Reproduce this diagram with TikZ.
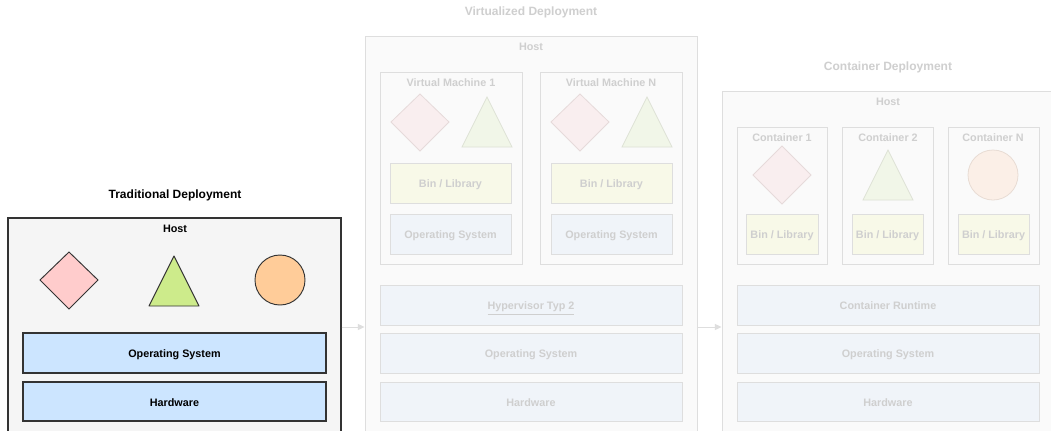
\documentclass[tikz,border=0pt]{standalone}
\usepackage{fontspec}
\setmainfont{Liberation Sans}
\usetikzlibrary{fit,arrows.meta}

% solid palette (traditional deployment)
\definecolor{hostfill}{HTML}{F5F5F5}
\definecolor{darkline}{HTML}{333333}
\definecolor{layerblue}{HTML}{CCE5FF}
\definecolor{pinkfill}{HTML}{FFCCCC}
\definecolor{greenfill}{HTML}{CDEB8B}
\definecolor{orangefill}{HTML}{FFCC99}
% faded palette (virtualized and container deployment)
\definecolor{fadetext}{HTML}{CFCFCF}
\definecolor{fadeline}{HTML}{DEDEDE}
\definecolor{fadehost}{HTML}{FAFAFA}
\definecolor{fadeblue}{HTML}{F0F4F9}
\definecolor{fadebin}{HTML}{F8F9E8}
\definecolor{fadepink}{HTML}{F9EEEF}
\definecolor{fadepinkline}{HTML}{E6DADA}
\definecolor{fadegreen}{HTML}{F1F6E8}
\definecolor{fadegreenline}{HTML}{DEE2D6}
\definecolor{fadeorange}{HTML}{FBEFE7}
\definecolor{fadeorangeline}{HTML}{E8DCD4}

\tikzset{
  every node/.style={font=\fontsize{8.1pt}{9.5pt}\selectfont\bfseries},
  bigfont/.style={font=\fontsize{9pt}{11pt}\selectfont\bfseries},
  frame/.style={fit={#1}, inner sep=0pt, draw},
  solidhost/.style={frame={#1}, draw=darkline, fill=hostfill, line width=0.8pt},
  solidlayer/.style={frame={#1}, draw=darkline, fill=layerblue, line width=0.8pt},
  fadehostbox/.style={frame={#1}, draw=fadeline, fill=fadehost, line width=0.7pt},
  fadebox/.style={frame={#1}, draw=fadeline, fill=fadehost, line width=0.7pt},
  fadelayer/.style={frame={#1}, draw=fadeline, fill=fadeblue, line width=0.7pt},
  fadebinbox/.style={frame={#1}, draw=fadeline, fill=fadebin, line width=0.7pt},
  solidtitle/.style={text=black},
  fadetitle/.style={text=fadetext},
  % text centred inside a box, set on a common height and depth
  inbox/.style={text height=1.65ex, text depth=0.25ex, inner sep=0pt},
  link/.style={draw=fadeline, line width=0.7pt, -{Triangle[length=5pt,width=4.5pt]}},
}

\begin{document}
\begin{tikzpicture}[x=0.75pt, y=-0.75pt]
  \useasboundingbox (0,0) rectangle (1051,430);
  \fill[white] (0,0) rectangle (1051,430);
  \clip (0,0) rectangle (1051,430);

  % ---------------- Traditional deployment ----------------
  \node[solidtitle, bigfont] (ttitle) at (175,195) {Traditional Deployment};
  \node[solidhost={(8,218)(341,445)}] (thost) {};
  \node[solidtitle] (thostlbl) at (175,229) {Host};
  \draw[darkline, fill=pinkfill, line width=0.7pt]
    (40,280) -- (69,252) -- (98,280) -- (69,309) -- cycle;
  \draw[darkline, fill=greenfill, line width=0.7pt, line join=round]
    (174,256) -- (199,306) -- (149,306) -- cycle;
  \draw[darkline, fill=orangefill, line width=0.7pt] (280,280) circle (25);
  \node[solidlayer={(23,333)(326,373)}] (tos) {};
  \node[solidtitle, inbox] at (tos.center) {Operating System};
  \node[solidlayer={(23,382)(326,421)}] (thw) {};
  \node[solidtitle, inbox] at (thw.center) {Hardware};

  % ---------------- Virtualized deployment ----------------
  \node[fadetitle, bigfont] (vtitle) at (531,12) {Virtualized Deployment};
  \node[fadehostbox={(365,36)(697,445)}] (vhost) {};
  \node[fadetitle] (vhostlbl) at (531,47) {Host};

  \node[fadebox={(380,72)(522,264)}] (vm1) {};
  \node[fadetitle] (vm1lbl) at (451,83) {Virtual Machine 1};
  \draw[fadepinkline, fill=fadepink, line width=0.6pt]
    (391,122) -- (420,94) -- (449,122) -- (420,151) -- cycle;
  \draw[fadegreenline, fill=fadegreen, line width=0.6pt]
    (487,97) -- (512,147) -- (462,147) -- cycle;
  \node[fadebinbox={(390,163)(511,203)}] (vm1bin) {};
  \node[fadetitle, inbox] at (vm1bin.center) {Bin / Library};
  \node[fadelayer={(390,214)(511,254)}] (vm1os) {};
  \node[fadetitle, inbox] at (vm1os.center) {Operating System};

  \node[fadebox={(540,72)(682,264)}] (vmn) {};
  \node[fadetitle] (vmnlbl) at (611,83) {Virtual Machine N};
  \draw[fadepinkline, fill=fadepink, line width=0.6pt]
    (551,122) -- (580,94) -- (609,122) -- (580,151) -- cycle;
  \draw[fadegreenline, fill=fadegreen, line width=0.6pt]
    (647,97) -- (672,147) -- (622,147) -- cycle;
  \node[fadebinbox={(551,163)(672,203)}] (vmnbin) {};
  \node[fadetitle, inbox] at (vmnbin.center) {Bin / Library};
  \node[fadelayer={(551,214)(672,254)}] (vmnos) {};
  \node[fadetitle, inbox] at (vmnos.center) {Operating System};

  \node[fadelayer={(380,285)(682,325)}] (vhyp) {};
  \node[fadetitle, inbox] at (vhyp.center) {\underline{Hypervisor Typ 2}};
  \node[fadelayer={(380,333)(682,373)}] (vos) {};
  \node[fadetitle, inbox] at (vos.center) {Operating System};
  \node[fadelayer={(380,382)(682,421)}] (vhw) {};
  \node[fadetitle, inbox] at (vhw.center) {Hardware};

  % ---------------- Container deployment ----------------
  \node[fadetitle, bigfont] (ctitle) at (888,67) {Container Deployment};
  \node[fadehostbox={(722,91)(1060,445)}] (chost) {};
  \node[fadetitle] (chostlbl) at (888,102) {Host};

  \node[fadebox={(737,127)(827,264)}] (c1) {};
  \node[fadetitle] (c1lbl) at (782,138) {Container 1};
  \draw[fadepinkline, fill=fadepink, line width=0.6pt]
    (753,175) -- (782,146) -- (811,175) -- (782,204) -- cycle;
  \node[fadebinbox={(746,214)(818,254)}] (c1bin) {};
  \node[fadetitle, inbox] at (c1bin.center) {Bin / Library};

  \node[fadebox={(842,127)(933,264)}] (c2) {};
  \node[fadetitle] (c2lbl) at (888,138) {Container 2};
  \draw[fadegreenline, fill=fadegreen, line width=0.6pt]
    (888,150) -- (913,200) -- (863,200) -- cycle;
  \node[fadebinbox={(852,214)(923,254)}] (c2bin) {};
  \node[fadetitle, inbox] at (c2bin.center) {Bin / Library};

  \node[fadebox={(948,127)(1039,264)}] (cn) {};
  \node[fadetitle] (cnlbl) at (993,138) {Container N};
  \draw[fadeorangeline, fill=fadeorange, line width=0.6pt] (993,175) circle (25);
  \node[fadebinbox={(958,214)(1029,254)}] (cnbin) {};
  \node[fadetitle, inbox] at (cnbin.center) {Bin / Library};

  \node[fadelayer={(737,285)(1039,325)}] (crt) {};
  \node[fadetitle, inbox] at (crt.center) {Container Runtime};
  \node[fadelayer={(737,333)(1039,373)}] (cos) {};
  \node[fadetitle, inbox] at (cos.center) {Operating System};
  \node[fadelayer={(737,382)(1039,421)}] (chw) {};
  \node[fadetitle, inbox] at (chw.center) {Hardware};

  % ---------------- Transitions ----------------
  \coordinate (flow) at (0,327);
  \draw[link] (thost.east |- flow) -- (vhost.west |- flow);
  \draw[link] (vhost.east |- flow) -- (chost.west |- flow);
\end{tikzpicture}
\end{document}
